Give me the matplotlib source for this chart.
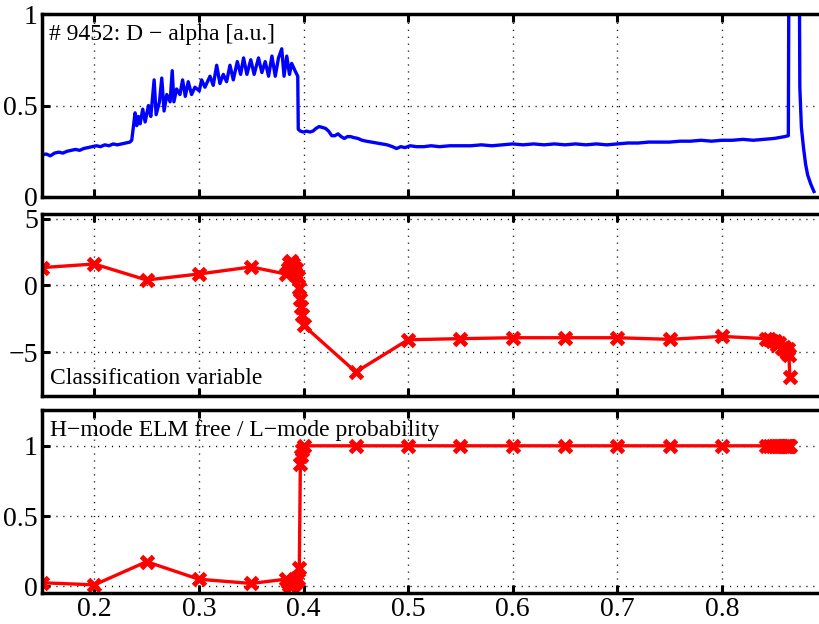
import matplotlib
matplotlib.use("Agg")
import matplotlib.pyplot as plt

# ---------------- data ----------------
# D-alpha trace (top panel)
t_da = [0.150, 0.154, 0.158, 0.162, 0.166, 0.170, 0.174, 0.178, 0.182, 0.186,
        0.190, 0.194, 0.198, 0.202, 0.206, 0.210, 0.214, 0.218, 0.222, 0.226,
        0.230, 0.234, 0.2358, 0.239, 0.2406, 0.2422, 0.2438, 0.2463, 0.2486, 0.2518,
        0.2540, 0.2572, 0.2591, 0.2623, 0.2645, 0.2667, 0.2693, 0.2725, 0.2745, 0.2761,
        0.2787, 0.2819, 0.2844, 0.2870, 0.2898, 0.2930, 0.2962, 0.3004, 0.3026, 0.3058,
        0.3106, 0.3137, 0.3170, 0.3201, 0.3233, 0.3265, 0.3297, 0.3329, 0.3367, 0.3399,
        0.3427, 0.3459, 0.3496, 0.3528, 0.3570, 0.3602, 0.3634, 0.3666, 0.3698, 0.3730,
        0.3761, 0.3792, 0.3814, 0.3840, 0.3866, 0.3887, 0.3919, 0.3945, 0.3950, 0.397,
        0.400, 0.403, 0.406, 0.409, 0.412, 0.415, 0.418, 0.421, 0.424, 0.427,
        0.430, 0.433, 0.436, 0.439, 0.442, 0.445, 0.448, 0.452, 0.456, 0.460,
        0.465, 0.470, 0.475, 0.480, 0.485, 0.489, 0.493, 0.497, 0.502, 0.508,
        0.515, 0.522, 0.530, 0.540, 0.550, 0.560, 0.570, 0.580, 0.590, 0.600,
        0.610, 0.620, 0.630, 0.640, 0.650, 0.660, 0.670, 0.680, 0.690, 0.700,
        0.710, 0.720, 0.730, 0.740, 0.750, 0.760, 0.770, 0.780, 0.790, 0.800,
        0.810, 0.820, 0.830, 0.840, 0.850, 0.855, 0.860, 0.8635, 0.8645, 0.866,
        0.870, 0.8735, 0.8745, 0.876, 0.878, 0.880, 0.882, 0.885, 0.888]
d_alpha = [0.230, 0.235, 0.225, 0.240, 0.245, 0.240, 0.250, 0.255, 0.260, 0.255,
           0.265, 0.270, 0.275, 0.280, 0.275, 0.285, 0.280, 0.290, 0.285, 0.290,
           0.295, 0.300, 0.310, 0.460, 0.390, 0.440, 0.400, 0.480, 0.410, 0.500,
           0.440, 0.640, 0.450, 0.520, 0.650, 0.470, 0.560, 0.520, 0.690, 0.520,
           0.590, 0.560, 0.640, 0.550, 0.630, 0.560, 0.600, 0.580, 0.640, 0.600,
           0.660, 0.610, 0.720, 0.620, 0.670, 0.630, 0.720, 0.640, 0.740, 0.670,
           0.760, 0.670, 0.750, 0.670, 0.760, 0.680, 0.740, 0.660, 0.770, 0.660,
           0.760, 0.810, 0.660, 0.770, 0.670, 0.730, 0.690, 0.660, 0.370, 0.360,
           0.355, 0.360, 0.355, 0.360, 0.375, 0.385, 0.380, 0.375, 0.360, 0.335,
           0.335, 0.345, 0.330, 0.320, 0.330, 0.330, 0.325, 0.320, 0.310, 0.305,
           0.300, 0.295, 0.290, 0.285, 0.275, 0.265, 0.275, 0.270, 0.280, 0.275,
           0.275, 0.280, 0.275, 0.280, 0.280, 0.280, 0.285, 0.280, 0.285, 0.290,
           0.285, 0.290, 0.285, 0.290, 0.285, 0.290, 0.285, 0.290, 0.285, 0.290,
           0.295, 0.295, 0.300, 0.300, 0.300, 0.305, 0.305, 0.310, 0.305, 0.310,
           0.310, 0.315, 0.310, 0.315, 0.320, 0.325, 0.330, 0.335, 2.000, 3.000,
           3.000, 2.000, 0.600, 0.380, 0.270, 0.180, 0.120, 0.070, 0.030]

# classification time points (middle & bottom panels)
t_cls = [0.15, 0.20, 0.25, 0.30, 0.35, 0.383, 0.385, 0.386, 0.387, 0.388,
         0.389, 0.390, 0.391, 0.392, 0.393, 0.394, 0.395, 0.396, 0.397, 0.398,
         0.399, 0.400, 0.45, 0.50, 0.55, 0.60, 0.65, 0.70, 0.75, 0.80,
         0.842, 0.845, 0.848, 0.851, 0.853, 0.855, 0.857, 0.859, 0.861, 0.862,
         0.863, 0.864, 0.865]
class_var = [1.33, 1.60, 0.40, 0.85, 1.38, 0.85, 1.20, 1.70, 1.40, 1.80,
             1.10, 1.60, 1.30, 0.90, 1.20, 0.70, 0.60, -0.20, -1.00, -1.60,
             -2.20, -3.00, -6.50, -4.08, -4.00, -3.93, -3.93, -3.93, -4.05, -3.83,
             -4.00, -4.05, -4.15, -4.20, -4.50, -4.35, -4.70, -4.60, -4.90, -5.10,
             -4.80, -5.20, -6.90]
prob = [0.025, 0.010, 0.175, 0.050, 0.020, 0.050, 0.030, 0.010, 0.020, 0.005,
        0.030, 0.010, 0.020, 0.040, 0.030, 0.060, 0.050, 0.130, 0.870, 0.930,
        0.970, 1.000, 1.000, 1.000, 1.000, 1.000, 1.000, 1.000, 1.000, 1.000,
        1.000, 1.000, 1.000, 1.000, 1.000, 1.000, 1.000, 1.000, 1.000, 1.000,
        1.000, 1.000, 1.000]

x_ticks = [0.2, 0.3, 0.4, 0.5, 0.6, 0.7, 0.8]
x_ticklabels = ["0.2", "0.3", "0.4", "0.5", "0.6", "0.7", "0.8"]
y1_ticks = [0, 0.5, 1]
y1_ticklabels = ["0", "0.5", "1"]
y2_ticks = [-5, 0, 5]
y2_ticklabels = ["\u22125", "0", "5"]
y3_ticks = [0, 0.5, 1]
y3_ticklabels = ["0", "0.5", "1"]

# ---------------- figure ----------------
plt.rcParams['font.family'] = ['Liberation Serif', 'DejaVu Serif']
W, H = 819, 624
fig = plt.figure(figsize=(W / 100, H / 100), dpi=100)

left = 42 / W
width = (826.5 - 42) / W

def make_ax(top_px, bot_px):
    return fig.add_axes([left, (H - bot_px) / H, width, (bot_px - top_px) / H])

ax1 = make_ax(14, 197)
ax2 = make_ax(214, 396)
ax3 = make_ax(410, 593)

grid_kw = dict(color='black', linestyle=(0, (0.8, 4.2)), linewidth=1.0)

for ax in (ax1, ax2, ax3):
    ax.set_xlim(0.15, 0.9)
    ax.set_xticks(x_ticks)
    ax.tick_params(direction='in', top=True, right=True, length=6, width=2.2,
                   labelsize=20, pad=3)
    for s in ax.spines.values():
        s.set_linewidth(2.5)
    ax.grid(True, **grid_kw)
    ax.set_axisbelow(True)

ax1.plot(t_da, d_alpha, color='#0000ff', linewidth=2.4)
ax1.set_ylim(0, 1)
ax1.set_yticks(y1_ticks)
ax1.set_yticklabels(y1_ticklabels)
ax1.set_xticklabels([])
ax1.text(0.009, 0.858, "# 9452: D \u2212 alpha [a.u.]", transform=ax1.transAxes,
         fontsize=17, va='baseline', ha='left')

mk = dict(color='#ff0000', linewidth=2.4, marker='x', markersize=8,
          markeredgewidth=3.6)

ax2.plot(t_cls, class_var, **mk)
ax2.set_ylim(-8.3, 5.35)
ax2.set_yticks(y2_ticks)
ax2.set_yticklabels(y2_ticklabels)
ax2.set_xticklabels([])
ax2.text(0.0102, 0.064, "Classification variable", transform=ax2.transAxes,
         fontsize=17, va='baseline', ha='left')

ax3.plot(t_cls, prob, **mk)
ax3.set_ylim(-0.048, 1.255)
ax3.set_yticks(y3_ticks)
ax3.set_yticklabels(y3_ticklabels)
ax3.set_xticklabels(x_ticklabels)
ax3.text(0.0102, 0.86, "H\u2212mode ELM free / L\u2212mode probability",
         transform=ax3.transAxes, fontsize=17, va='baseline', ha='left')

fig.savefig("out.png", dpi=100)
